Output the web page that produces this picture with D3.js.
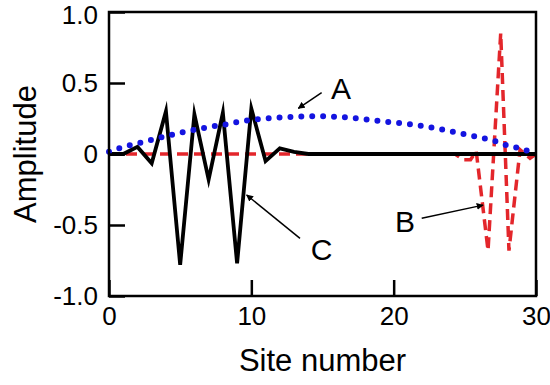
<!DOCTYPE html>
<html>
<head>
  <meta charset="utf-8">
  <script src="https://d3js.org/d3.v7.min.js"></script>
  <style>
    body { margin: 0; background: #fff; }
    text { font-family: "Liberation Sans", Arial, sans-serif; fill: #000; }
  </style>
</head>
<body>
  <div id="chart"></div>

  <script>
    // series A: extended state (blue dots), one value per site
    var sitesA = d3.range(0, 31);
    var ampA = [0.015, 0.05, 0.075, 0.1, 0.125, 0.15, 0.17, 0.19, 0.205, 0.225, 0.24,
                0.25, 0.258, 0.262, 0.265, 0.266, 0.262, 0.255, 0.245, 0.232, 0.222,
                0.212, 0.198, 0.18, 0.16, 0.138, 0.118, 0.095, 0.06, 0.035, 0];

    // series B: right-edge state (red dashes)
    var sitesB = [0, 24.3, 24.9, 25.4, 25.8, 26.63, 27.52, 28.1, 28.88, 29.58, 30];
    var ampB   = [0, 0, -0.04, -0.04, 0.02, -0.68, 0.85, -0.68, 0.03, -0.03, 0];

    // series C: left-edge state (black line)
    var sitesC = d3.range(0, 31);
    var ampC = [0, 0, 0.05, -0.065, 0.3, -0.78, 0.28, -0.18, 0.29, -0.77, 0.32,
                -0.05, 0.04, 0.015, 0, 0, 0, 0, 0, 0, 0, 0, 0, 0, 0, 0, 0, 0, 0, 0, 0];

    var xTicks = [0, 10, 20, 30];
    var yTicks = [1, 0.5, 0, -0.5, -1];
    var yTickLabels = ["1.0", "0.5", "0", "-0.5", "-1.0"];

    // annotation letters and their arrows (data units)
    var labels = [
      {text: "A", x: 16.3, y: 0.385, from: [14.94, 0.432], to: [13.3, 0.322]},
      {text: "B", x: 20.8, y: -0.55, from: [21.97, -0.453], to: [26.28, -0.36]},
      {text: "C", x: 14.94, y: -0.746, from: [13.42, -0.594], to: [9.67, -0.289]}
    ];

    var W = 550, H = 385;
    var margin = {top: 12, right: 14, bottom: 89, left: 109};

    var svg = d3.select("#chart").append("svg")
      .attr("width", W)
      .attr("height", H);

    var x = d3.scaleLinear().domain([0, 30]).range([margin.left, W - margin.right]);
    var y = d3.scaleLinear().domain([-1, 1]).range([H - margin.bottom, margin.top]);

    var defs = svg.append("defs");
    defs.append("marker")
      .attr("id", "head")
      .attr("viewBox", "0 0 10 10")
      .attr("refX", 9).attr("refY", 5)
      .attr("markerWidth", 7).attr("markerHeight", 7)
      .attr("markerUnits", "userSpaceOnUse")
      .attr("orient", "auto")
      .append("path")
      .attr("d", "M0,0 L10,5 L0,10 z")
      .attr("fill", "#000");

    // lines
    var lineB = d3.line().x(function(d) { return x(d[0]); }).y(function(d) { return y(d[1]); });
    var lineC = d3.line().x(function(d) { return x(d[0]); }).y(function(d) { return y(d[1]); });
    var lineA = d3.line().x(function(d) { return x(d[0]); }).y(function(d) { return y(d[1]); })
      .curve(d3.curveMonotoneX);

    svg.append("path")
      .datum(d3.zip(sitesB, ampB))
      .attr("d", lineB)
      .attr("fill", "none")
      .attr("stroke", "#e3262b")
      .attr("stroke-width", 3.5)
      .attr("stroke-dasharray", "11,6");

    svg.append("path")
      .datum(d3.zip(sitesC, ampC))
      .attr("d", lineC)
      .attr("fill", "none")
      .attr("stroke", "#000")
      .attr("stroke-width", 3.8)
      .attr("stroke-linejoin", "miter")
      .attr("stroke-miterlimit", 10);

    svg.append("path")
      .datum(d3.zip(sitesA, ampA))
      .attr("d", lineA)
      .attr("fill", "none")
      .attr("stroke", "#1414e0")
      .attr("stroke-width", 6)
      .attr("stroke-linecap", "round")
      .attr("stroke-dasharray", "0,10.9");

    // axes, ticks pointing inward
    var xAxis = svg.append("g")
      .attr("transform", "translate(0," + y(-1) + ")")
      .call(d3.axisBottom(x).tickValues(xTicks).tickSizeInner(-16).tickSizeOuter(0).tickPadding(11));

    var yAxis = svg.append("g")
      .attr("transform", "translate(" + x(0) + ",0)")
      .call(d3.axisLeft(y).tickValues(yTicks).tickSizeInner(-16).tickSizeOuter(0).tickPadding(11)
        .tickFormat(function(d, i) { return yTickLabels[i]; }));

    [xAxis, yAxis].forEach(function(g) {
      g.select(".domain").remove();
      g.selectAll(".tick line").attr("stroke", "#000").attr("stroke-width", 2.5);
      g.selectAll(".tick text").attr("font-size", 26).attr("font-family", "Liberation Sans, Arial, sans-serif");
    });
    // top label sits a little lower so it stays inside the page
    yAxis.select(".tick text").attr("dy", "0.45em");

    // frame
    svg.append("rect")
      .attr("x", x(0)).attr("y", y(1))
      .attr("width", x(30) - x(0)).attr("height", y(-1) - y(1))
      .attr("fill", "none")
      .attr("stroke", "#000")
      .attr("stroke-width", 2.5);

    // axis titles
    svg.append("text")
      .attr("x", (x(0) + x(30)) / 2)
      .attr("y", 371)
      .attr("text-anchor", "middle")
      .attr("font-size", 31)
      .text("Site number");

    svg.append("text")
      .attr("transform", "rotate(-90)")
      .attr("x", -(y(1) + y(-1)) / 2)
      .attr("y", 36)
      .attr("text-anchor", "middle")
      .attr("font-size", 31)
      .text("Amplitude");

    // annotations
    labels.forEach(function(d) {
      svg.append("text")
        .attr("x", x(d.x)).attr("y", y(d.y))
        .attr("text-anchor", "middle")
        .attr("font-size", 30)
        .text(d.text);
      svg.append("line")
        .attr("x1", x(d.from[0])).attr("y1", y(d.from[1]))
        .attr("x2", x(d.to[0])).attr("y2", y(d.to[1]))
        .attr("stroke", "#000")
        .attr("stroke-width", 1.5)
        .attr("marker-end", "url(#head)");
    });
  </script>
</body>
</html>
